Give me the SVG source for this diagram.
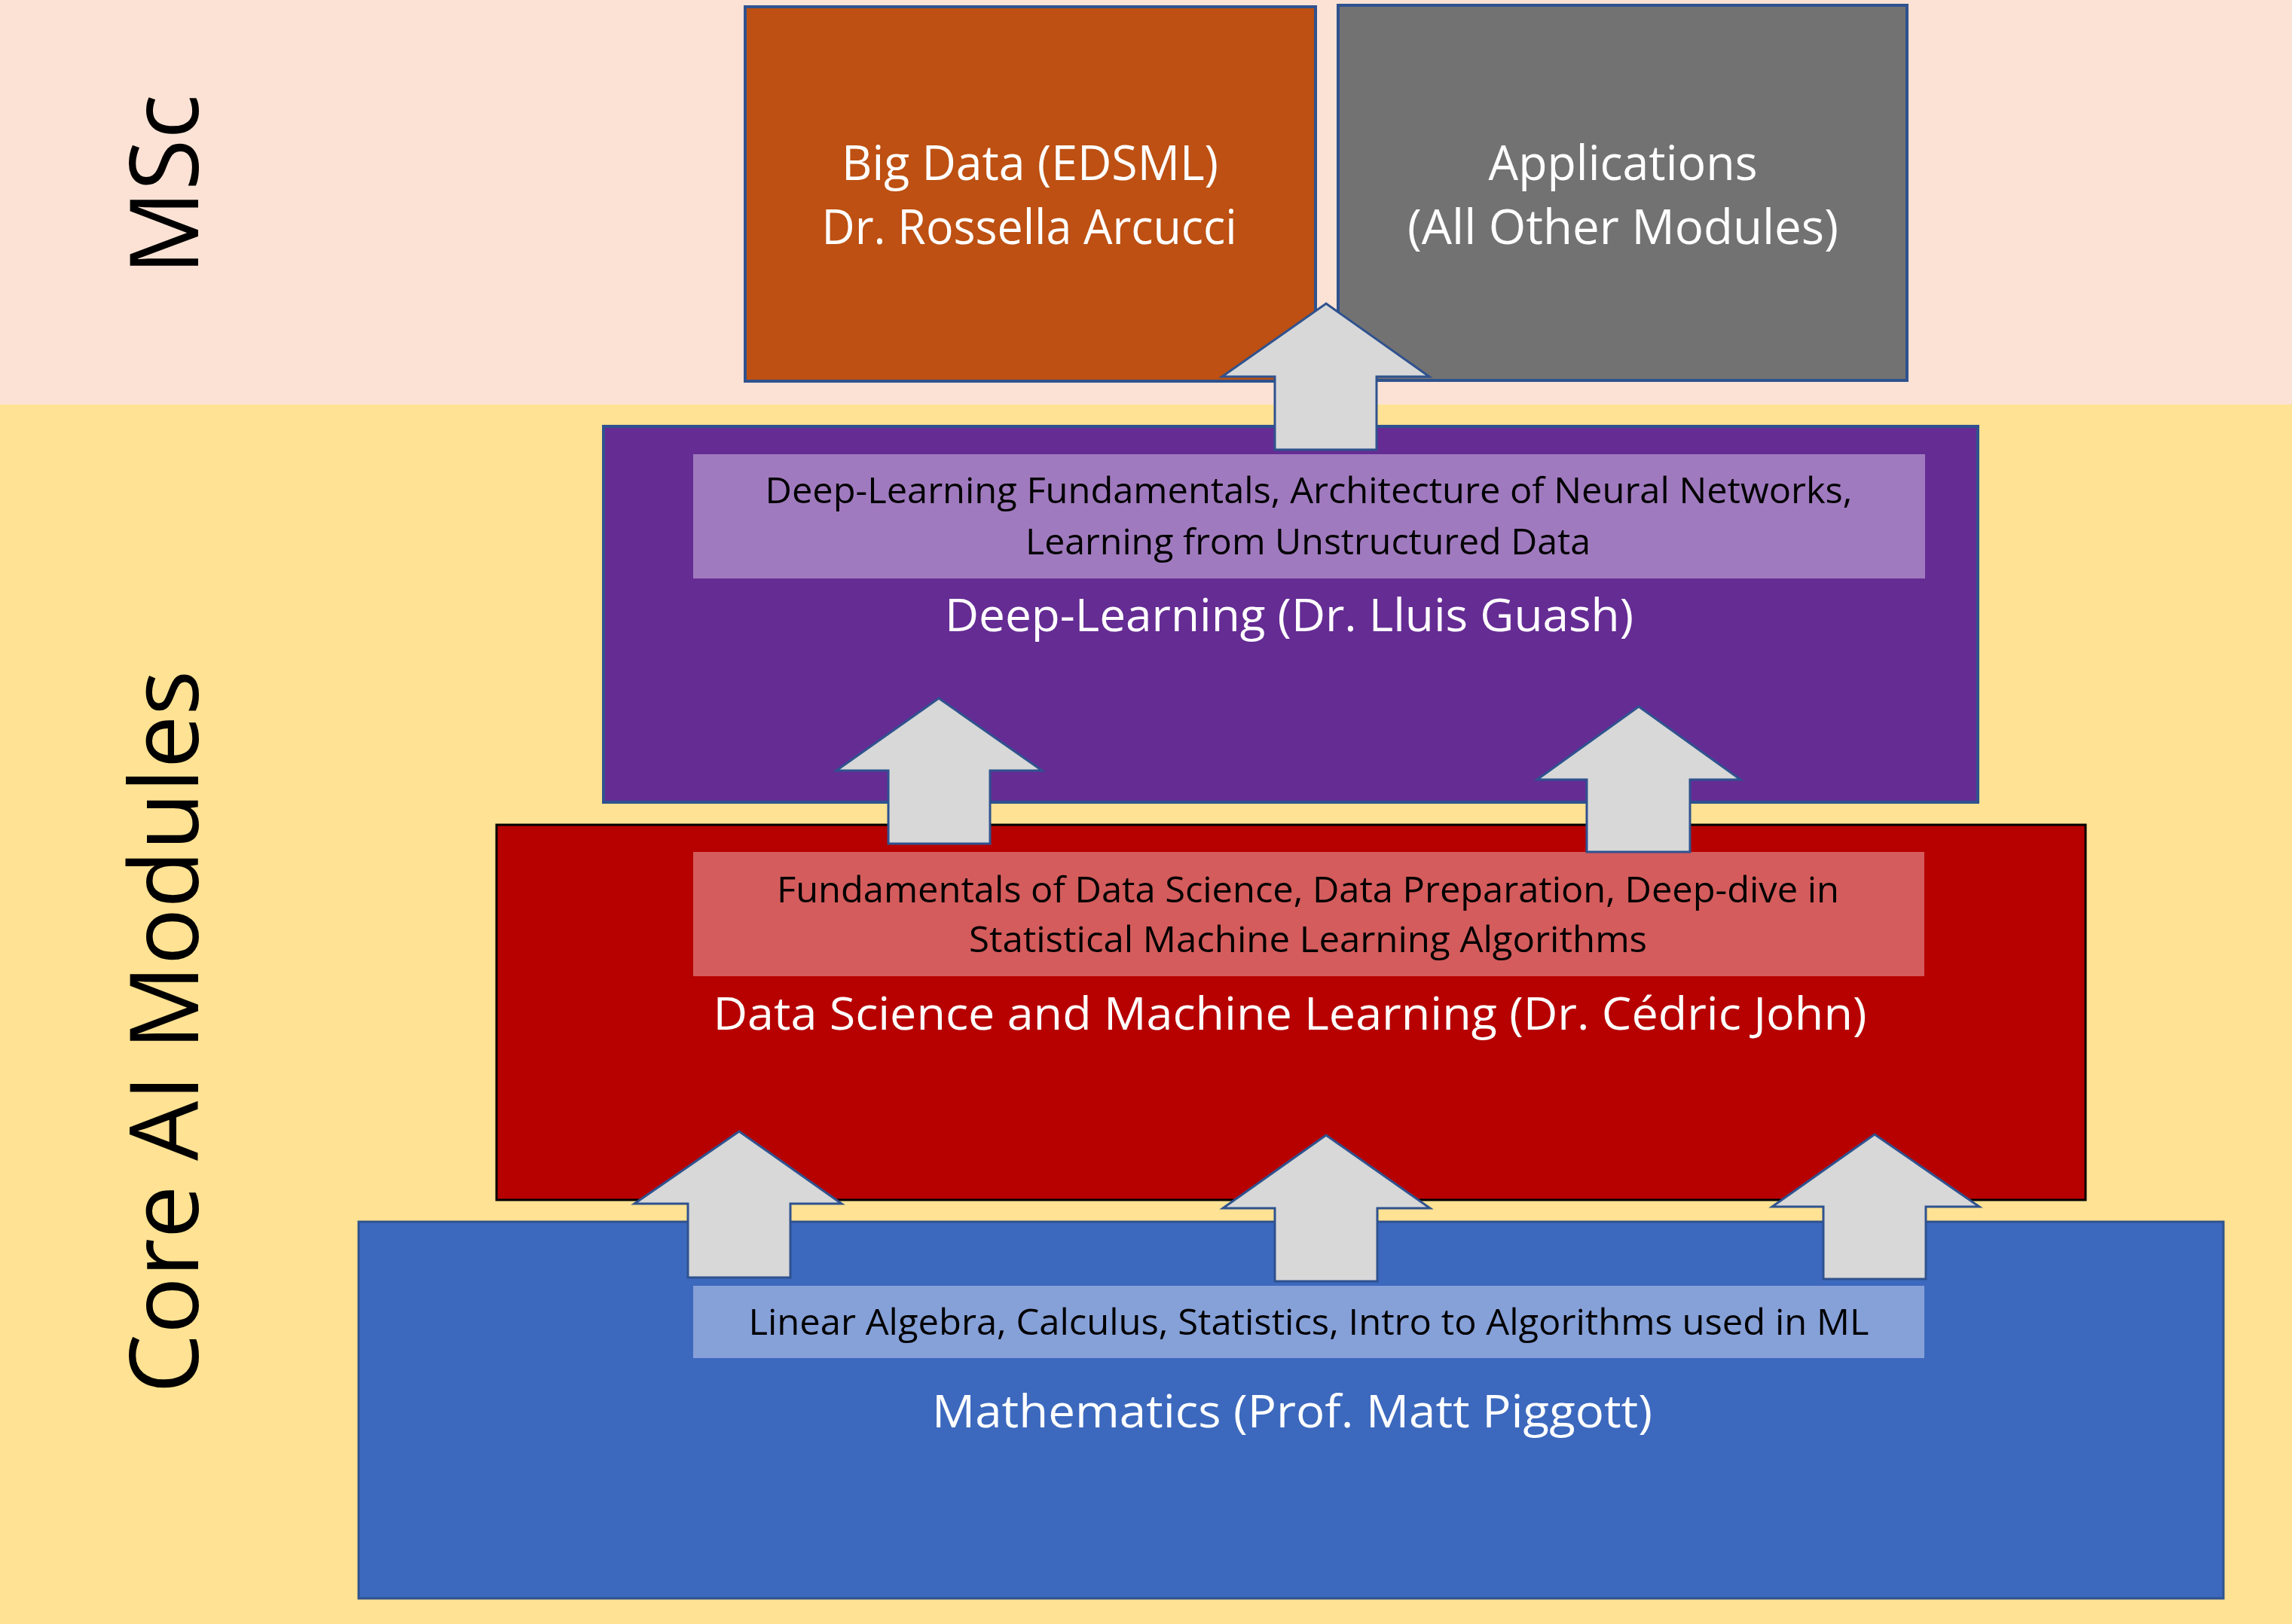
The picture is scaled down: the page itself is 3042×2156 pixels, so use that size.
<svg xmlns="http://www.w3.org/2000/svg" width="3042" height="2156" viewBox="0 0 3042 2156">
  <style>
    .lbl { font-family: 'Open Sans', 'Liberation Sans', sans-serif; text-anchor: middle; }
    .white { fill: #ffffff; }
    .black { fill: #000000; }
    .big { font-size: 64px; }
    .title { font-size: 60px; }
    .small { font-size: 48px; }
    .side { font-size: 127px; }
    .box { stroke: #2F528F; stroke-width: 4; }
    .arrow { fill: #D8D8D8; stroke: #2F528F; stroke-width: 3; stroke-linejoin: miter; }
  </style>

  <!-- background bands -->
  <rect x="0" y="0" width="3042" height="537" fill="#FBE2D4"/>
  <rect x="0" y="537" width="3042" height="1619" fill="#FFE293"/>

  <!-- band labels -->
  <g id="band-msc">
    <text class="lbl black side" transform="translate(263,245) rotate(-90)" textLength="240" lengthAdjust="spacingAndGlyphs">MSc</text>
  </g>
  <g id="band-core">
    <text class="lbl black side" transform="translate(263,1370) rotate(-90)" textLength="960" lengthAdjust="spacingAndGlyphs">Core AI Modules</text>
  </g>

  <!-- Mathematics -->
  <g id="node-math">
    <rect x="476" y="1622" width="2475" height="500" fill="#3C69BE" stroke="#2F528F" stroke-width="3"/>
    <rect x="920" y="1707" width="1634" height="96" fill="#86A0D8"/>
    <text class="lbl black small" x="1737" y="1772" textLength="1487" lengthAdjust="spacingAndGlyphs">Linear Algebra, Calculus, Statistics, Intro to Algorithms used in ML</text>
    <text class="lbl white title" x="1715" y="1895" textLength="956" lengthAdjust="spacingAndGlyphs">Mathematics (Prof. Matt Piggott)</text>
  </g>

  <!-- Data Science and Machine Learning -->
  <g id="node-dsml">
    <rect x="659" y="1095" width="2109" height="498" fill="#B70000" stroke="#000000" stroke-width="3"/>
    <rect x="920" y="1131" width="1634" height="165" fill="#D45C5C"/>
    <text class="lbl black small" x="1736" y="1198" textLength="1410" lengthAdjust="spacingAndGlyphs">Fundamentals of Data Science, Data Preparation, Deep-dive in</text>
    <text class="lbl black small" x="1736" y="1264" textLength="900" lengthAdjust="spacingAndGlyphs">Statistical Machine Learning Algorithms</text>
    <text class="lbl white title" x="1712" y="1367" textLength="1531" lengthAdjust="spacingAndGlyphs">Data Science and Machine Learning (Dr. Cédric John)</text>
  </g>

  <!-- Deep-Learning -->
  <g id="node-dl">
    <rect x="801" y="566" width="1824" height="499" fill="#652C94" class="box"/>
    <rect x="920" y="603" width="1635" height="165" fill="#A07ABE"/>
    <text class="lbl black small" x="1737" y="668" textLength="1443" lengthAdjust="spacingAndGlyphs">Deep-Learning Fundamentals, Architecture of Neural Networks,</text>
    <text class="lbl black small" x="1736" y="736" textLength="750" lengthAdjust="spacingAndGlyphs">Learning from Unstructured Data</text>
    <text class="lbl white title" x="1711" y="838" textLength="914" lengthAdjust="spacingAndGlyphs">Deep-Learning (Dr. Lluis Guash)</text>
  </g>

  <!-- Big Data -->
  <g id="node-bigdata">
    <rect x="989" y="9" width="757" height="497" fill="#BD5012" class="box"/>
    <text class="lbl white big" x="1367" y="239" textLength="500" lengthAdjust="spacingAndGlyphs">Big Data (EDSML)</text>
    <text class="lbl white big" x="1366" y="324" textLength="551" lengthAdjust="spacingAndGlyphs">Dr. Rossella Arcucci</text>
  </g>

  <!-- Applications -->
  <g id="node-apps">
    <rect x="1776" y="7" width="755" height="498" fill="#727272" class="box"/>
    <text class="lbl white big" x="2154" y="239" textLength="357" lengthAdjust="spacingAndGlyphs">Applications</text>
    <text class="lbl white big" x="2154" y="324" textLength="572" lengthAdjust="spacingAndGlyphs">(All Other Modules)</text>
  </g>

  <!-- upward block arrows between layers -->
  <g id="connectors">
    <polygon class="arrow" points="1760,403 1897,500 1827,500 1827,597 1692,597 1692,500 1622,500"/>
    <polygon class="arrow" points="1246,927 1383,1023 1314,1023 1314,1120 1179,1120 1179,1023 1110,1023"/>
    <polygon class="arrow" points="2175,938 2310,1035 2243,1035 2243,1131 2106,1131 2106,1035 2040,1035"/>
    <polygon class="arrow" points="981,1502 1117,1598 1049,1598 1049,1696 913,1696 913,1598 842,1598"/>
    <polygon class="arrow" points="1760,1507 1898,1604 1828,1604 1828,1701 1692,1701 1692,1604 1623,1604"/>
    <polygon class="arrow" points="2488,1506 2627,1602 2556,1602 2556,1698 2420,1698 2420,1602 2352,1602"/>
  </g>
</svg>
